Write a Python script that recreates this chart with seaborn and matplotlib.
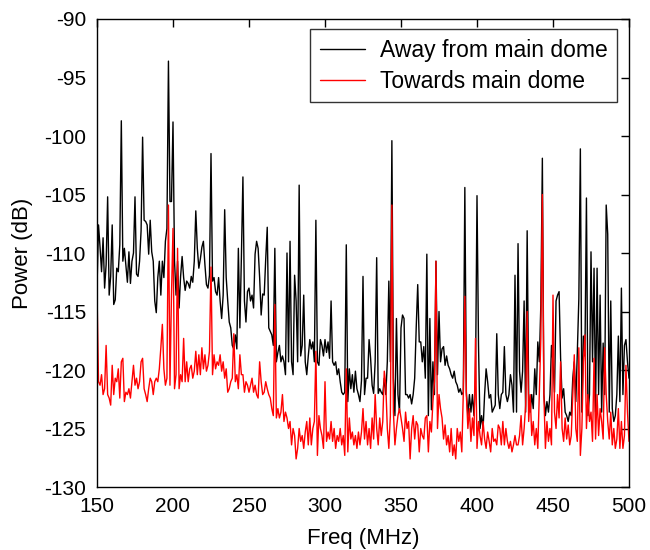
import matplotlib
matplotlib.use("Agg")
import matplotlib.pyplot as plt
import seaborn as sns
import pandas as pd

# Frequency axis (MHz), 1 MHz steps
freq = list(range(150, 501))

# Away from main dome (dB)
away = [
    -113, -107.6, -109.5, -111.6, -108.7, -113, -111, -105.2, -113.6, -112,
    -107.6, -114.4, -114, -111.3, -111.6, -109.3, -98.7, -110.7, -109.6, -111,
    -112.5, -109.9, -112.6, -110.7, -110, -105.2, -111.8, -112, -110.7, -108.1,
    -100.1, -107.2, -107.3, -107.6, -110.1, -107.2, -109.9, -110.7, -114.1, -115.1,
    -112.1, -110.7, -113.6, -110.7, -112.1, -109, -107.9, -93.6, -105.6, -105.6,
    -98.8, -110.7, -113.6, -110.7, -114.7, -112, -110.3, -112.1, -113.2, -112.4,
    -112.6, -113, -112, -112.5, -110.7, -106.4, -109.6, -111.3, -110.5, -109.5,
    -109, -111, -112.7, -113, -111.9, -101.5, -112.4, -112.1, -113.3, -113.6,
    -112.1, -114.1, -115.6, -113.6, -106.3, -112.1, -114.1, -115.9, -116.4, -117.9,
    -118.2, -117, -118.2, -109.6, -116.4, -110.3, -103.5, -114.1, -115.9, -113.3,
    -113, -114.1, -113.6, -114.7, -110.1, -109, -109.6, -112.1, -115.3, -113.5,
    -113.6, -110.5, -107.8, -116.4, -116.7, -117, -117.9, -109.6, -119.3, -118.5,
    -117.9, -119.3, -118.8, -119.3, -120.4, -110, -119.3, -109, -119.3, -120.4,
    -111.9, -114.1, -119.3, -104.2, -118.8, -117.9, -113.6, -119.3, -120.4, -118.8,
    -117.4, -118.2, -117.6, -119.3, -107.2, -119.3, -119.6, -117.4, -117.9, -118.8,
    -117.4, -118.5, -117.6, -119, -114.1, -119.3, -119.6, -119.3, -120.4, -119.9,
    -121, -121.9, -122.1, -121.9, -109.3, -122.7, -119.9, -121.6, -120.4, -121.9,
    -120.1, -121.6, -122.1, -122.7, -120.9, -112, -122.1, -120.7, -120.7, -117.4,
    -119, -121.3, -122, -119.3, -110.4, -122, -121.6, -121.9, -122.1, -120.7,
    -122.1, -119.3, -112.4, -119.3, -100.4, -120.7, -123.9, -115.6, -122.1, -123.6,
    -116.4, -115.3, -115.6, -122.1, -122.1, -122.4, -122.1, -122.9, -122.1, -120.7,
    -116.4, -112.7, -117.6, -117.6, -119.3, -118, -120.7, -110.1, -123.9, -115.6,
    -123.4, -119.3, -122.1, -110.7, -120.4, -115, -119.3, -118.2, -118, -119.6,
    -118.8, -119.6, -119.9, -120.4, -120.7, -120.1, -121, -121.3, -121.9, -121.6,
    -122.1, -121.9, -104.4, -121.9, -123.9, -122.1, -123.6, -122.1, -123.9, -121,
    -105.1, -117.9, -125, -123.9, -125, -122.1, -119.9, -121, -122.4, -122.1,
    -123.6, -123.3, -123, -116.9, -122.1, -123.3, -122.1, -121.9, -118, -122.1,
    -122.7, -122.1, -120.4, -121.3, -123.6, -111.9, -123.6, -109.2, -120.1, -121.9,
    -120.1, -114.1, -123.6, -108.1, -122.1, -123.6, -122.1, -123.3, -119.9, -122.1,
    -117.6, -119.3, -114.4, -101.9, -122.1, -123.9, -122.7, -123.6, -122.1, -117.9,
    -119.3, -121.9, -114.1, -113.6, -113.3, -119, -122.4, -121.6, -123.6, -123.9,
    -124.4, -123.6, -123.9, -120.7, -119.3, -122.7, -118.5, -113.9, -101.1, -123.6,
    -117.1, -118.8, -105.3, -123.9, -122.1, -109.9, -119.3, -111.3, -123.6, -111.3,
    -122.1, -113.6, -123.6, -117.7, -122.1, -105.9, -108.4, -123.6, -114.1, -123.3,
    -124.4, -123.9, -122.1, -117.1, -122.7, -113, -122.1, -117.9, -117.4, -119.3,
    -120.7,
]

# Towards main dome (dB)
towards = [
    -113.3, -121, -121.3, -120.4, -122.1, -121.6, -117.9, -122.1, -122.4, -123,
    -119.6, -122.1, -120.7, -121, -119.9, -122.4, -119.3, -119, -122.7, -121.9,
    -122.1, -121.6, -122.4, -121, -119.6, -121.3, -120.7, -121.6, -121, -119.3,
    -119, -121.6, -122.1, -122.7, -121.6, -120.7, -121, -122.1, -121, -120.7,
    -121, -119.9, -118.1, -116.1, -119.9, -121.3, -120.7, -105.9, -121.3, -113.6,
    -107.9, -121.6, -120.4, -109.6, -121.6, -120.4, -121, -117.3, -121, -119.3,
    -121, -119.9, -119.6, -120.7, -120.1, -118.4, -120.4, -118.7, -120.4, -118.1,
    -119.9, -118.7, -120.1, -119.6, -118.4, -111.2, -120.4, -118.7, -119.9, -119.3,
    -119.6, -118.7, -120.1, -119.3, -120.7, -119.9, -121.9, -121.6, -121, -120.7,
    -116.9, -121, -120.4, -121.6, -118.7, -120.4, -120.4, -121.9, -121, -121.3,
    -121.9, -121.3, -120.7, -121.9, -121.3, -122.1, -122.4, -119.3, -121, -122.1,
    -121.9, -121, -121.6, -122.1, -122.4, -123.3, -123.9, -114.4, -124.1, -123.3,
    -124.1, -123.6, -122.1, -124.4, -123.6, -124.1, -125, -124.4, -126.4, -125,
    -125.6, -127.6, -126.7, -125, -126.1, -125.6, -126.7, -125.3, -124.4, -126.4,
    -124.1, -126.4, -125, -124.4, -118.4, -127.3, -123.9, -125, -125.6, -126.7,
    -121, -126.1, -125.3, -125.9, -124.4, -126.1, -125, -126.7, -125.6, -126.1,
    -125, -126.4, -125.6, -127.3, -119.9, -127, -124.1, -125.9, -125.3, -126.4,
    -125.6, -126.7, -125.3, -126.4, -125.3, -123.3, -125.9, -124.4, -126.4, -125,
    -126.7, -124.1, -125.9, -122.1, -125, -126.4, -124.1, -125.6, -124.4, -120.1,
    -121.3, -125, -126.7, -123.9, -105.9, -123.6, -126.4, -125, -123.9, -123.3,
    -124.1, -125, -126.1, -123.6, -125, -124.4, -127.6, -125, -123.9, -125.9,
    -124.4, -124.7, -127, -125, -125.6, -125.9, -124.1, -123.9, -127, -124.4,
    -125.3, -122.7, -121, -110.7, -125, -122.1, -123.3, -124.1, -125.9, -124.7,
    -126.4, -125.6, -127, -125, -127.3, -126.4, -127.6, -125, -126.1, -125.3,
    -127, -121.9, -113.7, -122.1, -125, -123.3, -126.1, -124.1, -125.6, -117.3,
    -126.7, -124.4, -125.6, -126.4, -124.4, -125.9, -126.7, -125.3, -126.1, -127,
    -125, -126.1, -125.9, -126.4, -124.7, -125, -126.4, -124.4, -126.4, -125,
    -126.1, -126.7, -126.1, -127, -126.4, -125.6, -126.4, -126.4, -125.6, -123.9,
    -126.4, -125, -123, -115, -124.4, -122.1, -125.6, -124.4, -126.4, -125,
    -126.7, -122.1, -117.3, -105, -122.1, -126.7, -124.4, -126.1, -125, -126.4,
    -113.6, -123.6, -125, -122.1, -124.1, -119.3, -125, -126.1, -124.1, -125.9,
    -124.7, -126.4, -125.6, -122.1, -118.7, -125, -126.1, -118.1, -127.3, -125,
    -119.3, -117, -125, -122.1, -124.4, -123.6, -126.1, -119, -125.9, -122.1,
    -125.6, -123.3, -124.4, -125.9, -118.1, -122.1, -124.4, -125.9, -123.6, -126.4,
    -125, -126.7, -125.9, -123.3, -126.7, -124.4, -126.7, -125.6, -119.6, -123.6,
    -126.1,
]

series_names = ["Away from main dome", "Towards main dome"]
series_colors = ["#000000", "#ff0000"]

x_ticks = [150, 200, 250, 300, 350, 400, 450, 500]
y_ticks = [-130, -125, -120, -115, -110, -105, -100, -95, -90]

df = pd.concat([
    pd.DataFrame({"Freq": freq, "Power": away, "Series": series_names[0]}),
    pd.DataFrame({"Freq": freq, "Power": towards, "Series": series_names[1]}),
], ignore_index=True)

sns.set_style("white")
plt.rcParams["font.family"] = ["Liberation Sans", "DejaVu Sans"]
plt.rcParams["text.color"] = "black"
plt.rcParams["axes.labelcolor"] = "black"

fig = plt.figure(figsize=(6.5, 5.5), dpi=100)
ax = fig.add_axes([97 / 650, 1 - 487 / 550, 532 / 650, 468 / 550])

sns.lineplot(data=df, x="Freq", y="Power", hue="Series", hue_order=series_names,
             palette=dict(zip(series_names, series_colors)), linewidth=1.0,
             estimator=None, sort=False, ax=ax)

ax.set_xlim(150, 500)
ax.set_ylim(-130, -90)
ax.set_xticks(x_ticks)
ax.set_yticks(y_ticks)
ax.set_xticklabels([str(v) for v in x_ticks])
ax.set_yticklabels([str(v) for v in y_ticks])
ax.tick_params(direction="in", length=6, width=1, top=True, right=True,
               labelsize=15, colors="black")
ax.tick_params(axis="x", pad=7)
ax.tick_params(axis="y", pad=8)
for s in ax.spines.values():
    s.set_color("black")
    s.set_linewidth(1.0)
    s.set_visible(True)

ax.set_xlabel("Freq (MHz)", fontsize=16, labelpad=9, color="black")
ax.set_ylabel("Power (dB)", fontsize=16, labelpad=8, color="black")

leg = ax.legend(loc="upper right", bbox_to_anchor=((617 - 97) / 532, (487 - 29) / 468),
                borderaxespad=0, fontsize=16.5, frameon=True, fancybox=False,
                handlelength=1.95, handletextpad=0.65, labelspacing=0.35,
                borderpad=0.42, title=None)
leg.get_frame().set_edgecolor("black")
leg.get_frame().set_linewidth(1.0)
for h in leg.get_lines():
    h.set_linewidth(1.0)
for t in leg.get_texts():
    t.set_color("black")

fig.savefig("out.png", dpi=100, facecolor="white")
